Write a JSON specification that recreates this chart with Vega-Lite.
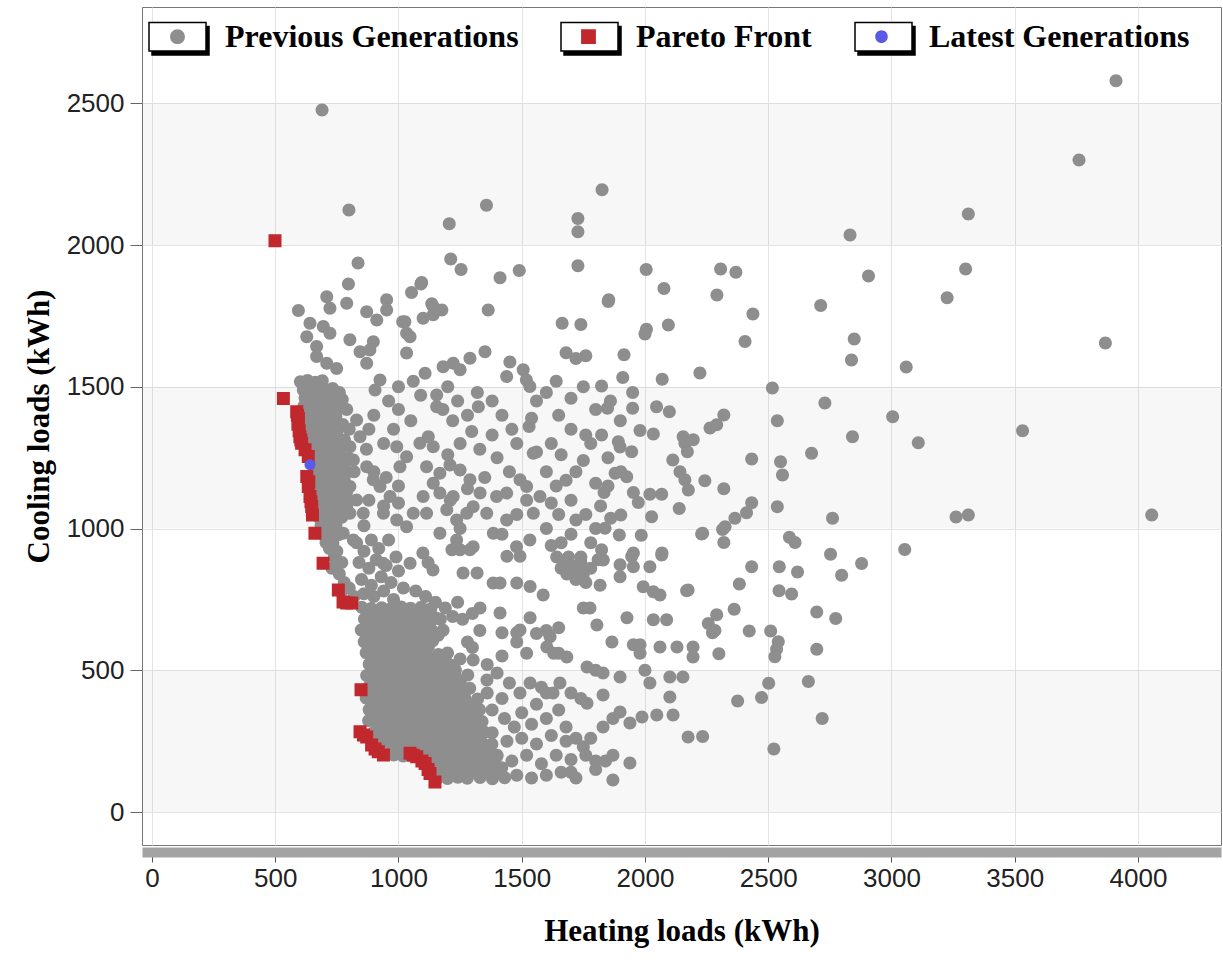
{
"$schema": "https://vega.github.io/schema/vega-lite/v6.json",
"width": 1079, "height": 838,
"autosize": {"type": "none"},
"padding": {"left": 142, "top": 7, "right": 2, "bottom": 122},
"background": "white",
"config": {
  "view": {"stroke": "#777", "strokeWidth": 1},
  "legend": {"labelFont": "Liberation Serif", "labelFontWeight": "bold", "labelFontSize": 32, "labelOffset": 18, "labelLimit": 500, "columnPadding": 38, "padding": 0, "symbolStrokeWidth": 1.5}
},
"datasets": {
"bands": [{"y0": 0, "y1": 500}, {"y0": 1000, "y1": 1500}, {"y0": 2000, "y1": 2500}],
"prev": [
{"x":690,"y":2477},{"x":3911,"y":2580},{"x":3761,"y":2300},{"x":3312,"y":2110},{"x":2832,"y":2036},{"x":2307,"y":1916},{"x":2369,"y":1904},{"x":2292,"y":1824},{"x":2438,"y":1757},{"x":2406,"y":1660},{"x":2713,"y":1787},{"x":2907,"y":1891},{"x":3301,"y":1916},{"x":3226,"y":1814},{"x":2849,"y":1669},{"x":2838,"y":1595},{"x":3868,"y":1655},{"x":3060,"y":1570},{"x":2517,"y":1496},{"x":2730,"y":1443},{"x":3005,"y":1394},{"x":3532,"y":1345},{"x":2320,"y":1401},{"x":2264,"y":1355},{"x":2537,"y":1380},{"x":2842,"y":1324},{"x":3109,"y":1303},{"x":2676,"y":1266},{"x":2433,"y":1245},{"x":2550,"y":1236},{"x":2223,"y":1549},{"x":4056,"y":1048},{"x":3262,"y":1041},{"x":3312,"y":1048},{"x":2558,"y":1189},{"x":2243,"y":1169},{"x":2320,"y":1140},{"x":2433,"y":1091},{"x":2537,"y":1077},{"x":2412,"y":1056},{"x":2365,"y":1036},{"x":2325,"y":1006},{"x":2315,"y":997},{"x":2761,"y":1036},{"x":2234,"y":983},{"x":2320,"y":951},{"x":2586,"y":969},{"x":2609,"y":951},{"x":3054,"y":926},{"x":2753,"y":909},{"x":2879,"y":877},{"x":2433,"y":865},{"x":2545,"y":865},{"x":2619,"y":847},{"x":2798,"y":835},{"x":2383,"y":804},{"x":2544,"y":781},{"x":2595,"y":769},{"x":2697,"y":706},{"x":2774,"y":683},{"x":2362,"y":715},{"x":2291,"y":696},{"x":2257,"y":665},{"x":2274,"y":632},{"x":2284,"y":640},{"x":2423,"y":639},{"x":2510,"y":639},{"x":2541,"y":601},{"x":2534,"y":574},{"x":2527,"y":548},{"x":2300,"y":558},{"x":2697,"y":574},{"x":2663,"y":460},{"x":2502,"y":454},{"x":2473,"y":404},{"x":2376,"y":392},{"x":2719,"y":330},{"x":2234,"y":266},{"x":2523,"y":222},
{"x":799,"y":2124},{"x":1206,"y":2075},{"x":1357,"y":2141},{"x":1826,"y":2195},{"x":1728,"y":2094},{"x":1728,"y":2047},{"x":1728,"y":1927},{"x":1212,"y":1951},{"x":1254,"y":1914},{"x":1412,"y":1885},{"x":1490,"y":1910},{"x":1094,"y":1868},{"x":1053,"y":1833},{"x":1135,"y":1793},{"x":1176,"y":1771},{"x":1141,"y":1754},{"x":1100,"y":1742},{"x":1017,"y":1730},{"x":1364,"y":1771},{"x":1664,"y":1724},{"x":1853,"y":1807},{"x":2005,"y":1914},{"x":2077,"y":1847},{"x":2006,"y":1703},{"x":2095,"y":1718},{"x":836,"y":1937},{"x":797,"y":1863},{"x":1091,"y":1863},
{"x":1851,"y":1801},{"x":2000,"y":1686},{"x":1915,"y":1613},{"x":1910,"y":1533},{"x":2070,"y":1527},{"x":1824,"y":1503},{"x":1950,"y":1480},{"x":1848,"y":1424},{"x":1950,"y":1424},{"x":2047,"y":1430},{"x":2099,"y":1412},{"x":1824,"y":1330},{"x":1980,"y":1346},{"x":2034,"y":1334},{"x":1892,"y":1306},{"x":1899,"y":1288},{"x":1946,"y":1271},{"x":2155,"y":1324},{"x":2196,"y":1313},{"x":2162,"y":1301},{"x":2172,"y":1271},{"x":2291,"y":1366},{"x":2113,"y":1242},{"x":1879,"y":1195},{"x":1902,"y":1200},{"x":1926,"y":1183},{"x":2142,"y":1200},{"x":2162,"y":1172},{"x":2176,"y":1136},{"x":1834,"y":1127},{"x":1953,"y":1127},{"x":1973,"y":1092},{"x":2020,"y":1121},{"x":2068,"y":1121},{"x":2139,"y":1071},{"x":2027,"y":1042},{"x":1861,"y":1036},{"x":1838,"y":1001},{"x":1896,"y":977},{"x":1902,"y":1048},{"x":1985,"y":976},{"x":2230,"y":981},{"x":1824,"y":925},{"x":1831,"y":889},{"x":1899,"y":872},{"x":1946,"y":901},{"x":1953,"y":865},{"x":2020,"y":865},{"x":2068,"y":907},{"x":1899,"y":830},{"x":1993,"y":795},{"x":2034,"y":777},{"x":2061,"y":766},{"x":2169,"y":781},
{"x":594,"y":1769},{"x":709,"y":1818},{"x":790,"y":1795},{"x":722,"y":1777},{"x":641,"y":1724},{"x":695,"y":1713},{"x":722,"y":1689},{"x":628,"y":1677},{"x":668,"y":1642},{"x":668,"y":1607},{"x":709,"y":1583},{"x":749,"y":1565},{"x":803,"y":1666},{"x":844,"y":1624},{"x":871,"y":1583},{"x":898,"y":1659},{"x":884,"y":1630},{"x":871,"y":1765},{"x":912,"y":1736},{"x":952,"y":1807},{"x":952,"y":1771},{"x":1026,"y":1730},{"x":1033,"y":1689},{"x":1033,"y":1619},{"x":1047,"y":1677},{"x":1141,"y":1783},{"x":1222,"y":1583},{"x":1181,"y":1571},{"x":1250,"y":1560},{"x":1290,"y":1601},{"x":1351,"y":1624},{"x":1108,"y":1548},{"x":1155,"y":1471},{"x":1155,"y":1430},{"x":1452,"y":1588},{"x":1506,"y":1560},{"x":1439,"y":1536},{"x":1519,"y":1524},{"x":1533,"y":1501},{"x":1324,"y":1430},{"x":1540,"y":1389},{"x":1297,"y":1342},{"x":925,"y":1524},{"x":905,"y":1489},{"x":1121,"y":1324},{"x":1087,"y":1301},{"x":1141,"y":1289},{"x":993,"y":1289},{"x":1033,"y":1253},{"x":1006,"y":1218},{"x":1114,"y":1218},{"x":1168,"y":1195},{"x":1209,"y":1224},{"x":1250,"y":1207},{"x":1290,"y":1172},{"x":1331,"y":1125},{"x":1303,"y":1077},{"x":1358,"y":1054},{"x":1398,"y":1113},{"x":1439,"y":1125},{"x":1493,"y":1172},{"x":1520,"y":1148},{"x":1547,"y":1266},{"x":1141,"y":1160},{"x":1168,"y":1125},{"x":1222,"y":1113},{"x":1196,"y":1066},{"x":1236,"y":1030},{"x":1277,"y":1054},{"x":925,"y":1148},{"x":966,"y":1113},{"x":939,"y":1054},{"x":993,"y":1030},{"x":1033,"y":1006},{"x":1060,"y":1054},{"x":871,"y":1218},{"x":898,"y":1172},{"x":830,"y":1383},{"x":844,"y":1324},{"x":803,"y":1289},{"x":817,"y":1242},{"x":803,"y":1148},{"x":830,"y":1101},{"x":803,"y":1054},{"x":857,"y":1054},{"x":776,"y":983},{"x":817,"y":960},{"x":1100,"y":1113},{"x":1114,"y":1054},{"x":1168,"y":983},{"x":1236,"y":960},{"x":1303,"y":936},{"x":1385,"y":983},{"x":1439,"y":1030},{"x":1479,"y":936},{"x":1533,"y":960},{"x":1547,"y":1054},{"x":1574,"y":1113},
{"x":1600,"y":1480},{"x":1650,"y":1400},{"x":1700,"y":1350},{"x":1620,"y":1300},{"x":1660,"y":1260},{"x":1720,"y":1200},{"x":1600,"y":1200},{"x":1640,"y":1150},{"x":1700,"y":1100},{"x":1760,"y":1050},{"x":1650,"y":1050},{"x":1600,"y":1000},{"x":1700,"y":980},{"x":1780,"y":950},{"x":1620,"y":940},{"x":1750,"y":1500},{"x":1800,"y":1420},{"x":1780,"y":1300},{"x":1750,"y":1240},{"x":1800,"y":1160},{"x":1800,"y":1000},{"x":1680,"y":1620},{"x":1720,"y":1600},{"x":1760,"y":1610},{"x":1740,"y":1720},{"x":1560,"y":1450},{"x":1860,"y":1450},{"x":1900,"y":1380},{"x":1530,"y":1360},{"x":1480,"y":1300},{"x":1760,"y":1330},{"x":1850,"y":1250},{"x":1560,"y":1270},{"x":1680,"y":1170},{"x":1850,"y":1150},{"x":1520,"y":1100},{"x":1620,"y":1090},{"x":1820,"y":1080},{"x":1720,"y":1030},{"x":1660,"y":950},{"x":1740,"y":900},{"x":1640,"y":1520},{"x":1700,"y":1460},
{"x":960,"y":1450},{"x":1000,"y":1420},{"x":1050,"y":1380},{"x":980,"y":1350},{"x":940,"y":1300},{"x":1090,"y":1470},{"x":1000,"y":1500},{"x":1060,"y":1520},{"x":1200,"y":1500},{"x":1240,"y":1450},{"x":1280,"y":1400},{"x":1220,"y":1380},{"x":1180,"y":1420},{"x":1320,"y":1480},{"x":1380,"y":1450},{"x":1420,"y":1400},{"x":1460,"y":1350},{"x":1380,"y":1330},{"x":1330,"y":1280},{"x":1250,"y":1300},{"x":1200,"y":1260},{"x":1400,"y":1250},{"x":1450,"y":1200},{"x":1350,"y":1180},{"x":1280,"y":1140},{"x":1210,"y":1100},{"x":1480,"y":1050},{"x":1420,"y":980},{"x":1250,"y":1000},{"x":900,"y":1400},{"x":880,"y":1350},{"x":870,"y":1280},{"x":900,"y":1200},{"x":950,"y":1180},{"x":1000,"y":1150},{"x":940,"y":1080},{"x":1000,"y":1090},{"x":880,"y":1100},{"x":860,"y":1010},
{"x":602,"y":1518},{"x":631,"y":1522},{"x":662,"y":1516},{"x":691,"y":1521},
{"x":614,"y":1489},{"x":646,"y":1492},{"x":674,"y":1487},{"x":706,"y":1490},{"x":733,"y":1494},
{"x":621,"y":1461},{"x":651,"y":1457},{"x":679,"y":1462},{"x":711,"y":1459},{"x":741,"y":1463},{"x":772,"y":1455},
{"x":616,"y":1431},{"x":644,"y":1428},{"x":676,"y":1433},{"x":704,"y":1429},{"x":736,"y":1432},{"x":766,"y":1427},
{"x":626,"y":1399},{"x":655,"y":1402},{"x":686,"y":1398},{"x":714,"y":1401},{"x":746,"y":1397},
{"x":621,"y":1371},{"x":650,"y":1368},{"x":681,"y":1372},{"x":709,"y":1369},{"x":741,"y":1373},{"x":774,"y":1367},
{"x":631,"y":1341},{"x":659,"y":1338},{"x":691,"y":1342},{"x":719,"y":1339},{"x":751,"y":1343},
{"x":632,"y":1309},{"x":661,"y":1312},{"x":689,"y":1308},{"x":721,"y":1311},{"x":749,"y":1307},{"x":781,"y":1312},
{"x":641,"y":1281},{"x":669,"y":1278},{"x":701,"y":1282},{"x":729,"y":1279},{"x":761,"y":1283},
{"x":651,"y":1251},{"x":679,"y":1248},{"x":711,"y":1252},{"x":739,"y":1249},{"x":771,"y":1253},{"x":799,"y":1247},
{"x":659,"y":1219},{"x":691,"y":1222},{"x":719,"y":1218},{"x":751,"y":1221},{"x":779,"y":1217},
{"x":656,"y":1191},{"x":684,"y":1188},{"x":716,"y":1192},{"x":744,"y":1189},{"x":776,"y":1193},
{"x":661,"y":1161},{"x":689,"y":1158},{"x":721,"y":1162},{"x":749,"y":1159},{"x":781,"y":1163},
{"x":666,"y":1129},{"x":694,"y":1132},{"x":726,"y":1128},{"x":754,"y":1131},{"x":789,"y":1127},
{"x":664,"y":1101},{"x":696,"y":1098},{"x":724,"y":1102},{"x":756,"y":1099},{"x":784,"y":1103},
{"x":671,"y":1069},{"x":699,"y":1072},{"x":731,"y":1068},{"x":759,"y":1071},
{"x":676,"y":1041},{"x":704,"y":1038},{"x":736,"y":1042},{"x":764,"y":1039},
{"x":686,"y":1011},{"x":714,"y":1008},{"x":746,"y":1012},
{"x":696,"y":979},{"x":724,"y":982},{"x":756,"y":978},
{"x":706,"y":951},{"x":734,"y":948},
{"x":760,"y":1480},{"x":790,"y":1420},{"x":800,"y":1350},{"x":780,"y":1180},{"x":820,"y":1200},{"x":790,"y":1080},{"x":770,"y":1040},
{"x":720,"y":930},{"x":740,"y":900},{"x":730,"y":860},{"x":760,"y":840},{"x":780,"y":810},{"x":770,"y":780},{"x":800,"y":790},{"x":820,"y":760},{"x":750,"y":920},{"x":770,"y":880},
{"x":830,"y":950},{"x":860,"y":920},{"x":890,"y":960},{"x":920,"y":930},{"x":960,"y":960},{"x":840,"y":880},{"x":880,"y":860},{"x":910,"y":890},{"x":950,"y":870},{"x":990,"y":900},{"x":850,"y":820},{"x":890,"y":800},{"x":930,"y":830},{"x":970,"y":810},{"x":1000,"y":850},{"x":860,"y":770},{"x":900,"y":760},{"x":940,"y":780},{"x":980,"y":750},{"x":1020,"y":790},
{"x":851,"y":722},{"x":889,"y":718},{"x":932,"y":721},{"x":969,"y":717},{"x":1011,"y":723},{"x":1049,"y":719},{"x":1092,"y":722},{"x":1131,"y":716},
{"x":872,"y":702},{"x":912,"y":698},{"x":951,"y":703},{"x":992,"y":699},{"x":1031,"y":701},{"x":1072,"y":697},{"x":1111,"y":702},
{"x":862,"y":681},{"x":901,"y":678},{"x":938,"y":683},{"x":981,"y":679},{"x":1019,"y":682},{"x":1062,"y":677},{"x":1099,"y":681},{"x":1152,"y":684},
{"x":871,"y":662},{"x":909,"y":658},{"x":952,"y":661},{"x":989,"y":657},{"x":1032,"y":663},{"x":1069,"y":659},{"x":1121,"y":661},
{"x":849,"y":642},{"x":891,"y":638},{"x":929,"y":641},{"x":971,"y":637},{"x":1009,"y":643},{"x":1052,"y":639},{"x":1088,"y":642},{"x":1141,"y":636},{"x":1181,"y":641},
{"x":869,"y":621},{"x":911,"y":618},{"x":949,"y":623},{"x":991,"y":619},{"x":1029,"y":622},{"x":1071,"y":617},{"x":1119,"y":621},{"x":1161,"y":624},
{"x":861,"y":601},{"x":899,"y":598},{"x":941,"y":603},{"x":979,"y":599},{"x":1021,"y":602},{"x":1059,"y":597},{"x":1101,"y":601},{"x":1139,"y":604},
{"x":881,"y":582},{"x":919,"y":578},{"x":961,"y":581},{"x":1001,"y":577},{"x":1039,"y":583},{"x":1081,"y":579},{"x":1121,"y":582},
{"x":869,"y":562},{"x":911,"y":558},{"x":949,"y":561},{"x":991,"y":557},{"x":1029,"y":563},{"x":1071,"y":559},{"x":1109,"y":562},{"x":1162,"y":556},{"x":1199,"y":561},
{"x":899,"y":541},{"x":941,"y":538},{"x":979,"y":543},{"x":1021,"y":539},{"x":1059,"y":542},{"x":1101,"y":537},{"x":1139,"y":541},{"x":1189,"y":544},
{"x":881,"y":521},{"x":919,"y":518},{"x":961,"y":523},{"x":999,"y":519},{"x":1041,"y":522},{"x":1079,"y":517},{"x":1121,"y":521},{"x":1169,"y":524},{"x":1211,"y":519},
{"x":891,"y":502},{"x":929,"y":498},{"x":971,"y":501},{"x":1009,"y":497},{"x":1051,"y":503},{"x":1089,"y":499},{"x":1131,"y":502},{"x":1179,"y":496},{"x":1231,"y":501},
{"x":871,"y":482},{"x":909,"y":478},{"x":951,"y":481},{"x":989,"y":477},{"x":1031,"y":483},{"x":1069,"y":479},{"x":1111,"y":482},{"x":1149,"y":476},{"x":1191,"y":481},{"x":1229,"y":478},{"x":1281,"y":483},
{"x":889,"y":461},{"x":931,"y":458},{"x":969,"y":463},{"x":1011,"y":459},{"x":1049,"y":462},{"x":1091,"y":457},{"x":1129,"y":461},{"x":1171,"y":464},{"x":1209,"y":459},{"x":1251,"y":462},
{"x":879,"y":441},{"x":921,"y":438},{"x":959,"y":443},{"x":1001,"y":439},{"x":1039,"y":442},{"x":1081,"y":437},{"x":1119,"y":441},{"x":1161,"y":444},{"x":1199,"y":439},{"x":1241,"y":442},{"x":1289,"y":437},
{"x":901,"y":422},{"x":939,"y":418},{"x":981,"y":421},{"x":1019,"y":417},{"x":1061,"y":423},{"x":1099,"y":419},{"x":1141,"y":422},{"x":1179,"y":416},{"x":1221,"y":421},{"x":1259,"y":418},
{"x":869,"y":402},{"x":911,"y":398},{"x":949,"y":401},{"x":991,"y":397},{"x":1029,"y":403},{"x":1071,"y":399},{"x":1109,"y":402},{"x":1151,"y":396},{"x":1189,"y":401},{"x":1231,"y":398},{"x":1269,"y":403},{"x":1321,"y":399},
{"x":891,"y":381},{"x":929,"y":378},{"x":971,"y":383},{"x":1009,"y":379},{"x":1051,"y":382},{"x":1089,"y":377},{"x":1131,"y":381},{"x":1169,"y":384},{"x":1211,"y":379},{"x":1249,"y":382},{"x":1301,"y":377},
{"x":881,"y":361},{"x":919,"y":358},{"x":961,"y":363},{"x":999,"y":359},{"x":1041,"y":362},{"x":1079,"y":357},{"x":1121,"y":361},{"x":1159,"y":364},{"x":1201,"y":359},{"x":1239,"y":362},{"x":1281,"y":357},{"x":1329,"y":361},
{"x":899,"y":342},{"x":941,"y":338},{"x":979,"y":341},{"x":1021,"y":337},{"x":1059,"y":343},{"x":1101,"y":339},{"x":1139,"y":342},{"x":1181,"y":336},{"x":1219,"y":341},{"x":1261,"y":338},{"x":1309,"y":343},
{"x":879,"y":322},{"x":921,"y":318},{"x":959,"y":321},{"x":1001,"y":317},{"x":1039,"y":323},{"x":1081,"y":319},{"x":1119,"y":322},{"x":1161,"y":316},{"x":1199,"y":321},{"x":1241,"y":318},{"x":1291,"y":323},{"x":1339,"y":319},
{"x":921,"y":301},{"x":959,"y":298},{"x":1001,"y":303},{"x":1039,"y":299},{"x":1081,"y":302},{"x":1119,"y":297},{"x":1161,"y":301},{"x":1199,"y":304},{"x":1241,"y":299},{"x":1279,"y":302},{"x":1321,"y":297},
{"x":901,"y":281},{"x":939,"y":278},{"x":981,"y":283},{"x":1019,"y":279},{"x":1061,"y":282},{"x":1099,"y":277},{"x":1141,"y":281},{"x":1179,"y":284},{"x":1221,"y":279},{"x":1259,"y":282},{"x":1301,"y":277},{"x":1349,"y":281},
{"x":919,"y":262},{"x":961,"y":258},{"x":999,"y":261},{"x":1041,"y":257},{"x":1079,"y":263},{"x":1121,"y":259},{"x":1159,"y":262},{"x":1201,"y":256},{"x":1239,"y":261},{"x":1281,"y":258},{"x":1319,"y":263},
{"x":931,"y":242},{"x":969,"y":238},{"x":1011,"y":241},{"x":1049,"y":237},{"x":1091,"y":243},{"x":1129,"y":239},{"x":1171,"y":242},{"x":1209,"y":236},{"x":1251,"y":241},{"x":1289,"y":238},{"x":1341,"y":243},{"x":1379,"y":239},
{"x":999,"y":221},{"x":1041,"y":218},{"x":1079,"y":223},{"x":1121,"y":219},{"x":1159,"y":222},{"x":1201,"y":217},{"x":1239,"y":221},{"x":1281,"y":224},{"x":1319,"y":219},{"x":1361,"y":222},
{"x":981,"y":201},{"x":1019,"y":198},{"x":1061,"y":203},{"x":1099,"y":199},{"x":1141,"y":202},{"x":1179,"y":197},{"x":1221,"y":201},{"x":1259,"y":204},{"x":1301,"y":199},{"x":1349,"y":202},{"x":1399,"y":197},
{"x":1141,"y":182},{"x":1179,"y":178},{"x":1221,"y":181},{"x":1259,"y":177},{"x":1301,"y":183},{"x":1339,"y":179},{"x":1391,"y":182},
{"x":1121,"y":162},{"x":1159,"y":158},{"x":1201,"y":161},{"x":1239,"y":157},{"x":1281,"y":163},{"x":1319,"y":159},{"x":1371,"y":162},{"x":1419,"y":156},
{"x":1179,"y":141},{"x":1221,"y":138},{"x":1259,"y":143},{"x":1301,"y":139},{"x":1349,"y":142},{"x":1401,"y":137},
{"x":1161,"y":121},{"x":1199,"y":118},{"x":1241,"y":123},{"x":1279,"y":119},{"x":1331,"y":122},{"x":1381,"y":117},{"x":1431,"y":121},
{"x":938,"y":878},{"x":1047,"y":878},{"x":1099,"y":914},{"x":1120,"y":880},{"x":1140,"y":854},{"x":1217,"y":925},{"x":1250,"y":925},{"x":1290,"y":925},{"x":1262,"y":843},{"x":1319,"y":843},{"x":1384,"y":808},{"x":1412,"y":808},{"x":1440,"y":902},{"x":1493,"y":902},{"x":1480,"y":808},{"x":1534,"y":796},{"x":1587,"y":766},{"x":1642,"y":900},{"x":1680,"y":880},{"x":1724,"y":855},{"x":1683,"y":840},{"x":1720,"y":820},{"x":1760,"y":810},{"x":1818,"y":800},{"x":1953,"y":914},{"x":2069,"y":914},{"x":1070,"y":780},{"x":1110,"y":760},{"x":1150,"y":740},{"x":1190,"y":720},{"x":1220,"y":690},{"x":1170,"y":680},{"x":1130,"y":670},
{"x":1660,"y":860},{"x":1700,"y":870},{"x":1740,"y":880},{"x":1780,"y":860},{"x":1810,"y":890},{"x":1690,"y":900},{"x":1750,"y":840},
{"x":1331,"y":720},{"x":1412,"y":702},{"x":1420,"y":632},{"x":1480,"y":632},{"x":1534,"y":685},{"x":1493,"y":642},{"x":1560,"y":630},{"x":1615,"y":618},{"x":1602,"y":582},{"x":1650,"y":560},{"x":1683,"y":547},{"x":1750,"y":720},{"x":1777,"y":720},{"x":1805,"y":660},{"x":1866,"y":600},{"x":1927,"y":685},{"x":1953,"y":590},{"x":1980,"y":590},{"x":2034,"y":678},{"x":2088,"y":678},{"x":2061,"y":582},{"x":2130,"y":582},{"x":2175,"y":783},{"x":2195,"y":582},{"x":2195,"y":547},{"x":1303,"y":536},{"x":1359,"y":466},{"x":1400,"y":490},{"x":1450,"y":455},{"x":1493,"y":420},{"x":1534,"y":455},{"x":1580,"y":440},{"x":1627,"y":420},{"x":1655,"y":455},{"x":1700,"y":420},{"x":1765,"y":384},{"x":1765,"y":512},{"x":1800,"y":500},{"x":1830,"y":490},{"x":1830,"y":413},{"x":1899,"y":476},{"x":1980,"y":560},{"x":2000,"y":500},{"x":2020,"y":455},{"x":2101,"y":406},{"x":2101,"y":476},{"x":2154,"y":476},{"x":1899,"y":353},{"x":1939,"y":314},{"x":1988,"y":335},{"x":2048,"y":342},{"x":2114,"y":342},{"x":2175,"y":265},{"x":1939,"y":173},{"x":1680,"y":250},{"x":1750,"y":230},{"x":1800,"y":180},{"x":1870,"y":113},{"x":1700,"y":140},
{"x":1360,"y":520},{"x":1420,"y":400},{"x":1600,"y":420},{"x":1560,"y":380},{"x":1380,"y":360},{"x":1430,"y":330},{"x":1500,"y":350},{"x":1470,"y":300},{"x":1540,"y":310},{"x":1600,"y":330},{"x":1650,"y":360},{"x":1740,"y":400},{"x":1380,"y":280},{"x":1440,"y":250},{"x":1500,"y":260},{"x":1560,"y":240},{"x":1620,"y":270},{"x":1680,"y":300},{"x":1720,"y":260},{"x":1400,"y":200},{"x":1460,"y":180},{"x":1520,"y":200},{"x":1580,"y":170},{"x":1640,"y":200},{"x":1700,"y":185},{"x":1760,"y":200},{"x":1800,"y":150},{"x":1480,"y":130},{"x":1540,"y":120},{"x":1600,"y":130},{"x":1660,"y":140},{"x":1720,"y":120},{"x":1840,"y":180},{"x":1870,"y":200},{"x":1780,"y":260},{"x":1830,"y":300},{"x":1870,"y":330},{"x":1360,"y":420},{"x":1420,"y":550},{"x":1480,"y":600},{"x":1520,"y":560},{"x":1630,"y":560},{"x":1300,"y":580},{"x":1330,"y":640},{"x":1600,"y":640},{"x":1650,"y":650},{"x":1250,"y":540},{"x":1280,"y":600},{"x":1260,"y":680},{"x":1300,"y":700},{"x":1240,"y":740}
],
"pareto": [
{"x":499,"y":2015,"s":"Pareto Front"},{"x":533,"y":1459,"s":"Pareto Front"},{"x":587,"y":1412,"s":"Pareto Front"},{"x":590,"y":1400,"s":"Pareto Front"},{"x":594,"y":1389,"s":"Pareto Front"},{"x":592,"y":1368,"s":"Pareto Front"},{"x":597,"y":1345,"s":"Pareto Front"},{"x":600,"y":1324,"s":"Pareto Front"},{"x":604,"y":1312,"s":"Pareto Front"},{"x":607,"y":1301,"s":"Pareto Front"},{"x":621,"y":1278,"s":"Pareto Front"},{"x":634,"y":1254,"s":"Pareto Front"},{"x":628,"y":1184,"s":"Pareto Front"},{"x":636,"y":1165,"s":"Pareto Front"},{"x":634,"y":1148,"s":"Pareto Front"},{"x":641,"y":1113,"s":"Pareto Front"},{"x":645,"y":1095,"s":"Pareto Front"},{"x":648,"y":1078,"s":"Pareto Front"},{"x":651,"y":1048,"s":"Pareto Front"},{"x":661,"y":983,"s":"Pareto Front"},{"x":694,"y":878,"s":"Pareto Front"},{"x":756,"y":783,"s":"Pareto Front"},{"x":775,"y":741,"s":"Pareto Front"},{"x":790,"y":737,"s":"Pareto Front"},{"x":810,"y":737,"s":"Pareto Front"},{"x":848,"y":431,"s":"Pareto Front"},{"x":844,"y":283,"s":"Pareto Front"},{"x":858,"y":272,"s":"Pareto Front"},{"x":871,"y":265,"s":"Pareto Front"},{"x":891,"y":236,"s":"Pareto Front"},{"x":905,"y":222,"s":"Pareto Front"},{"x":918,"y":213,"s":"Pareto Front"},{"x":939,"y":201,"s":"Pareto Front"},{"x":1047,"y":207,"s":"Pareto Front"},{"x":1060,"y":200,"s":"Pareto Front"},{"x":1074,"y":195,"s":"Pareto Front"},{"x":1095,"y":180,"s":"Pareto Front"},{"x":1108,"y":171,"s":"Pareto Front"},{"x":1120,"y":150,"s":"Pareto Front"},{"x":1128,"y":136,"s":"Pareto Front"},{"x":1148,"y":106,"s":"Pareto Front"},
{"x":641,"y":1225,"s":"Latest Generations"}
]
},
"layer": [
{
  "data": {"name": "bands"},
  "mark": {"type": "rect", "color": "#000", "opacity": 0.03},
  "encoding": {
    "y": {"field": "y0", "type": "quantitative", "scale": {"domain": [-116.4, 2840], "nice": false, "zero": false},
      "axis": {"title": "Cooling loads (kWh)", "values": [0,500,1000,1500,2000,2500], "format": "d", "grid": true, "gridColor": "#e4e4e4", "domain": false, "tickSize": 12, "tickColor": "#666", "labelPadding": 6, "labelFont": "Liberation Sans", "labelFontSize": 26, "labelColor": "#222", "titleFont": "Liberation Serif", "titleFontWeight": "bold", "titleFontSize": 31, "titleColor": "#000", "titlePadding": 11}},
    "y2": {"field": "y1"}
  }
},
{
  "data": {"name": "prev"},
  "mark": {"type": "point", "filled": true, "size": 2500, "opacity": 1},
  "encoding": {
    "x": {"field": "x", "type": "quantitative", "scale": {"domain": [-40.6, 4337], "nice": false, "zero": false},
      "axis": {"title": "Heating loads (kWh)", "values": [0,500,1000,1500,2000,2500,3000,3500,4000], "format": "d", "grid": true, "gridColor": "#e4e4e4", "offset": 7, "domainWidth": 10, "domainColor": "#a3a3a3", "tickSize": 10, "tickColor": "#555", "labelPadding": 3, "labelFont": "Liberation Sans", "labelFontSize": 26, "labelColor": "#222", "labelFlush": false, "labelOverlap": false, "titleFont": "Liberation Serif", "titleFontWeight": "bold", "titleFontSize": 31, "titleColor": "#000", "titlePadding": 25}},
    "y": {"field": "y", "type": "quantitative", "scale": {"domain": [-116.4, 2840], "nice": false, "zero": false},
      "axis": {"title": "Cooling loads (kWh)", "values": [0,500,1000,1500,2000,2500], "format": "d", "grid": true, "gridColor": "#e4e4e4", "domain": false, "tickSize": 12, "tickColor": "#666", "labelPadding": 6, "labelFont": "Liberation Sans", "labelFontSize": 26, "labelColor": "#222", "titleFont": "Liberation Serif", "titleFontWeight": "bold", "titleFontSize": 31, "titleColor": "#000", "titlePadding": 11}},
    "color": {"datum": "Previous Generations", "type": "nominal",
      "legend": {"title": null, "orient": "none", "legendX": 6, "legendY": 0, "direction": "horizontal", "columns": 3, "symbolSize": 3249, "symbolStrokeWidth": 1.5, "symbolStrokeColor": "transparent", "symbolOpacity": 1, "labelColor": "#000", "labelLimit": 500, "zindex": 3}},
    "shape": {"datum": "Previous Generations", "type": "nominal",
      "legend": {"title": null, "orient": "none", "legendX": 6, "legendY": 0, "direction": "horizontal", "columns": 3, "symbolSize": 3249, "symbolStrokeWidth": 1.5, "symbolStrokeColor": "transparent", "symbolOpacity": 1, "labelColor": "#000", "labelLimit": 500, "zindex": 3}}
  }
},
{
  "data": {"name": "pareto"},
  "mark": {"type": "point", "filled": true, "size": 2500, "opacity": 1},
  "encoding": {
    "x": {"field": "x", "type": "quantitative", "scale": {"domain": [-40.6, 4337], "nice": false, "zero": false},
      "axis": {"title": "Heating loads (kWh)", "values": [0,500,1000,1500,2000,2500,3000,3500,4000], "format": "d", "grid": true, "gridColor": "#e4e4e4", "offset": 7, "domainWidth": 10, "domainColor": "#a3a3a3", "tickSize": 10, "tickColor": "#555", "labelPadding": 3, "labelFont": "Liberation Sans", "labelFontSize": 26, "labelColor": "#222", "labelFlush": false, "labelOverlap": false, "titleFont": "Liberation Serif", "titleFontWeight": "bold", "titleFontSize": 31, "titleColor": "#000", "titlePadding": 25}},
    "y": {"field": "y", "type": "quantitative", "scale": {"domain": [-116.4, 2840], "nice": false, "zero": false},
      "axis": {"title": "Cooling loads (kWh)", "values": [0,500,1000,1500,2000,2500], "format": "d", "grid": true, "gridColor": "#e4e4e4", "domain": false, "tickSize": 12, "tickColor": "#666", "labelPadding": 6, "labelFont": "Liberation Sans", "labelFontSize": 26, "labelColor": "#222", "titleFont": "Liberation Serif", "titleFontWeight": "bold", "titleFontSize": 31, "titleColor": "#000", "titlePadding": 11}},
    "color": {"field": "s", "type": "nominal",
      "scale": {"domain": ["Previous Generations", "Pareto Front", "Latest Generations"], "range": ["#8e8e8e", "#c0282d", "#5a5ae6"]},
      "legend": {"title": null, "orient": "none", "legendX": 6, "legendY": 0, "direction": "horizontal", "columns": 3, "symbolSize": 3249, "symbolStrokeWidth": 1.5, "symbolStrokeColor": "transparent", "symbolOpacity": 1, "labelColor": "#000", "labelLimit": 500, "zindex": 3}},
    "shape": {"field": "s", "type": "nominal",
      "scale": {"domain": ["Previous Generations", "Pareto Front", "Latest Generations"], "range": ["M-1,-0.5ZM1,0.5ZM-0.26,0A0.26,0.26,0,1,0,0.26,0A0.26,0.26,0,1,0,-0.26,0Z", "M-1,-0.5ZM1,0.5ZM-0.26,-0.26H0.26V0.26H-0.26Z", "M-1,-0.5ZM1,0.5ZM-0.22,0A0.22,0.22,0,1,0,0.22,0A0.22,0.22,0,1,0,-0.22,0Z"]},
      "legend": {"title": null, "orient": "none", "legendX": 6, "legendY": 0, "direction": "horizontal", "columns": 3, "symbolSize": 3249, "symbolStrokeWidth": 1.5, "symbolStrokeColor": "transparent", "symbolOpacity": 1, "labelColor": "#000", "labelLimit": 500, "zindex": 3}}
  }
},
{
  "data": {"values": []},
  "mark": {"type": "point", "filled": true, "shape": "M-1,-0.5H1V0.5H-1Z"},
  "encoding": {
    "fill": {"field": "b", "type": "nominal",
      "scale": {"domain": ["Previous Generations ", "Pareto Front ", "Latest Generations "], "range": ["#ffffff", "#ffffff", "#ffffff"]},
      "legend": {"title": null, "orient": "none", "legendX": 6, "legendY": 0, "direction": "horizontal", "columns": 3, "symbolSize": 3249, "symbolType": "M-1,-0.5H1V0.5H-1Z", "symbolStrokeWidth": 1.5, "symbolStrokeColor": "#000", "symbolOpacity": 1, "labelColor": "transparent", "labelFontSize": 39.23, "labelLimit": 500, "labelExpr": "datum.value == 'Previous Generations ' ? '\u200b' + pad('', 30, '\u00a0') + '\u200b' : datum.value == 'Pareto Front ' ? '\u200b' + pad('', 18, '\u00a0') + '\u200b' : ''", "zindex": 2}}
  }
},
{
  "data": {"values": []},
  "mark": {"type": "point", "filled": true, "color": "#000", "shape": "M-1,-0.5H1V0.5H-1Z"},
  "encoding": {
    "stroke": {"field": "c", "type": "nominal",
      "scale": {"domain": ["Previous Generations  ", "Pareto Front  ", "Latest Generations  "], "range": ["#000000", "#000000", "#000000"]},
      "legend": {"title": null, "orient": "none", "legendX": 9, "legendY": 4, "direction": "horizontal", "columns": 3, "symbolSize": 3249, "symbolType": "M-1,-0.5H1V0.5H-1Z", "symbolStrokeWidth": 1.5, "symbolFillColor": "#000", "symbolOpacity": 1, "labelColor": "transparent", "labelFontSize": 39.23, "labelLimit": 500, "labelExpr": "datum.value == 'Previous Generations  ' ? '\u200b' + pad('', 30, '\u00a0') + '\u200b' : datum.value == 'Pareto Front  ' ? '\u200b' + pad('', 18, '\u00a0') + '\u200b' : ''", "zindex": 1}}
  }
}
]
}
